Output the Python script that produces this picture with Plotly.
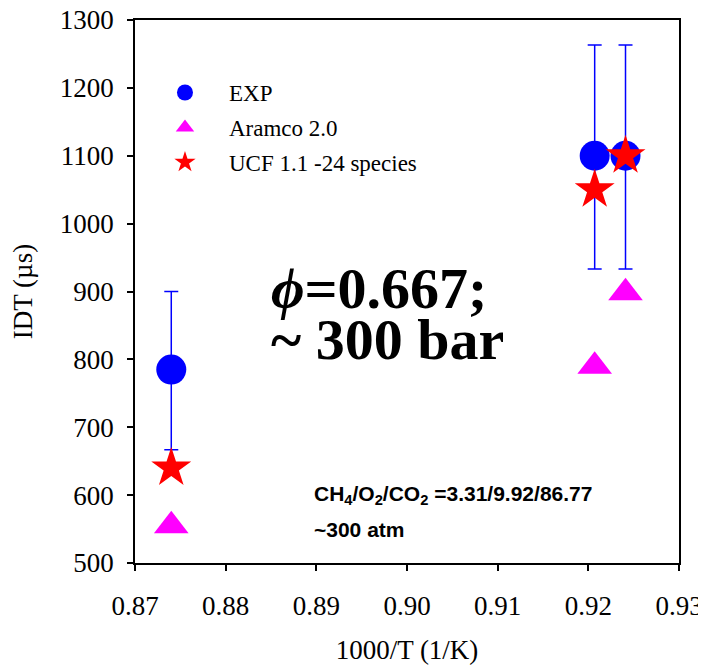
import plotly.graph_objects as go

# ---- data ----
x_exp = [0.8740, 0.9207, 0.9241]
y_exp = [785, 1100, 1100]
err_plus = [115, 163, 163]
err_minus = [118, 167, 167]

x_aramco = [0.8740, 0.9207, 0.9241]
y_aramco = [555, 790, 898]

x_ucf = [0.8740, 0.9207, 0.9241]
y_ucf = [640, 1050, 1100]

x_ticks = [0.87, 0.88, 0.89, 0.90, 0.91, 0.92, 0.93]
y_ticks = [500, 600, 700, 800, 900, 1000, 1100, 1200, 1300]

serif = "Liberation Serif"
sans = "Liberation Sans"

fig = go.Figure()
fig.add_trace(go.Scatter(
    x=x_exp, y=y_exp, mode="markers", name="EXP", legendgroup="a",
    marker=dict(symbol="circle", size=30, color="#0000FF"),
    error_y=dict(type="data", array=err_plus, arrayminus=err_minus,
                 color="#0000FF", thickness=1.5, width=7),
))
fig.add_trace(go.Scatter(
    x=x_aramco, y=y_aramco, mode="markers", name="Aramco 2.0", legendgroup="b",
    marker=dict(symbol="triangle-up", size=30, color="#FF00FF"),
))
fig.add_trace(go.Scatter(
    x=x_ucf, y=y_ucf, mode="markers", name="UCF 1.1 -24 species", legendgroup="c",
    marker=dict(symbol="star", size=30, color="#FF0000"),
))

axis_common = dict(
    showgrid=False, zeroline=False, showline=True, linecolor="black", linewidth=1.5,
    mirror=True, ticks="outside", ticklen=6, tickwidth=1.5, tickcolor="black",
    automargin=False, ticklabeloverflow="allow",
)

fig.update_xaxes(range=[0.87, 0.93], tickvals=x_ticks,
                 ticktext=[f"{v:.2f}" for v in x_ticks],
                 tickfont=dict(family=serif, size=27, color="black"),
                 ticklabelstandoff=12,
                 title=dict(text="1000/T (1/K)", font=dict(family=serif, size=27, color="black"),
                            standoff=20),
                 **axis_common)
fig.update_yaxes(range=[500, 1300], tickvals=y_ticks,
                 ticktext=[str(v) for v in y_ticks],
                 tickfont=dict(family=serif, size=27, color="black"),
                 ticklabelstandoff=8,
                 title=dict(text="IDT (µs)", font=dict(family=serif, size=27, color="black"),
                            standoff=20),
                 **axis_common)

fig.add_annotation(xref="paper", yref="paper", x=0.247, y=0.505, xanchor="left", yanchor="middle",
                   text="<b><i>ϕ</i>=0.667;</b>", showarrow=False,
                   font=dict(family=serif, size=58, color="black"))
fig.add_annotation(xref="paper", yref="paper", x=0.247, y=0.411, xanchor="left", yanchor="middle",
                   text="<b>~ 300 bar</b>", showarrow=False,
                   font=dict(family=serif, size=58, color="black"))
fig.add_annotation(xref="paper", yref="paper", x=0.325, y=0.125, xanchor="left", yanchor="middle",
                   text="<b>CH<sub>4</sub>/O<sub>2</sub>/CO<sub>2</sub> =3.31/9.92/86.77</b>",
                   showarrow=False, font=dict(family=sans, size=21, color="black"))
fig.add_annotation(xref="paper", yref="paper", x=0.325, y=0.062, xanchor="left", yanchor="middle",
                   text="<b>~300 atm</b>",
                   showarrow=False, font=dict(family=sans, size=21, color="black"))

fig.update_layout(
    width=706, height=666,
    margin=dict(l=127, r=35, t=12, b=111, autoexpand=False),
    font=dict(family=serif, size=27, color="black"),
    plot_bgcolor="white", paper_bgcolor="white",
    legend=dict(x=0.011, y=0.906, xanchor="left", yanchor="top",
                font=dict(family=serif, size=23, color="black"),
                itemwidth=78, tracegroupgap=2, bgcolor="rgba(0,0,0,0)"),
)

fig.write_html("out.html", config={"displayModeBar": False})
